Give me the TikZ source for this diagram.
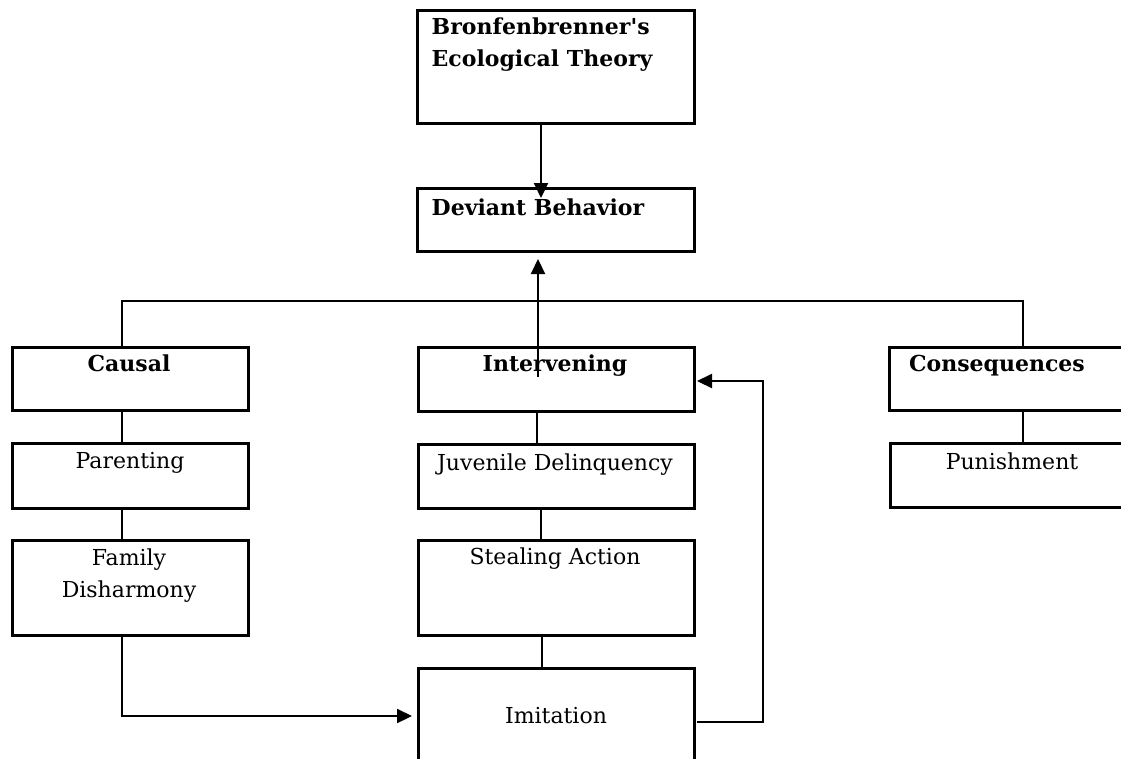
\documentclass[tikz,border=0pt]{standalone}
\usepackage{fontspec}
\setmainfont{DejaVu Serif}[Ligatures=TeXOff]
\usetikzlibrary{shapes,arrows.meta}
\tikzset{
  box/.style={draw, line width=3pt, inner sep=0pt},
  lbl/.style={inner sep=0pt, font=\fontsize{22}{32}\selectfont},
  conn/.style={line width=2.2pt},
  arr/.style={line width=2.2pt, -{Triangle[length=15pt,width=14pt]}}
}
\begin{document}
\begin{tikzpicture}[x=1pt,y=-1pt]
\useasboundingbox (0,0) rectangle (1121,758);
\node[box, minimum width=277, minimum height=113, label={[lbl, anchor=north west, align=left, xshift=16, yshift=-9]north west:\textbf{Bronfenbrenner's}\\\textbf{Ecological Theory}}] (theory) at (555.5,66.5) {};
\node[box, minimum width=277, minimum height=63, label={[lbl, anchor=north west, xshift=16, yshift=-12]north west:\textbf{Deviant Behavior}}] (deviant) at (555.5,219.5) {};
\node[box, minimum width=236, minimum height=63, label={[lbl, anchor=north, xshift=-1, yshift=-9]north:\textbf{Causal}}] (causal) at (130,378.5) {};
\node[box, minimum width=276, minimum height=64, label={[lbl, anchor=north, xshift=-1, yshift=-9]north:\textbf{Intervening}}] (interv) at (556,379) {};
\node[box, minimum width=270, minimum height=63, label={[lbl, anchor=north, xshift=-27, yshift=-9]north:\textbf{Consequences}}] (conseq) at (1024,378.5) {};
\node[box, minimum width=236, minimum height=65, label={[lbl, anchor=north, yshift=-11]north:Parenting}] (parenting) at (130,475.5) {};
\node[box, minimum width=276, minimum height=64, label={[lbl, anchor=north, xshift=-1, yshift=-11]north:Juvenile Delinquency}] (juvenile) at (556,476) {};
\node[box, minimum width=270, minimum height=64, label={[lbl, anchor=north, xshift=-13, yshift=-11]north:Punishment}] (punish) at (1025,475) {};
\node[box, minimum width=236, minimum height=95, label={[lbl, anchor=north, align=center, xshift=-1, yshift=-10]north:Family\\Disharmony}] (family) at (130,587.5) {};
\node[box, minimum width=276, minimum height=95, label={[lbl, anchor=north, xshift=-1, yshift=-9]north:Stealing Action}] (stealing) at (556,587.5) {};
\node[box, minimum width=276, minimum height=132, label={[lbl, anchor=north, yshift=-41]north:Imitation}] (imitation) at (556,734) {};
\coordinate (busleft) at (122,301);
\coordinate (busright) at (1023,301);
\coordinate (upstart) at (538,377);
\coordinate (uptip) at (538,259);
\coordinate (famcorner) at (122,716);
\coordinate (famtip) at (412,716);
\coordinate (fbstart) at (697,722);
\coordinate (fbtop) at (763,381);
\coordinate (fbtip) at (697,381);
\draw[conn] (causal.north -| busleft) -- (busleft) -- (busright) -- (conseq.north -| busright);
\draw[arr] (theory.south -| 541,0) -- (541,198);
\draw[arr] (upstart) -- (uptip);
\draw[conn] (causal.south -| busleft) -- (parenting.north -| busleft);
\draw[conn] (parenting.south -| busleft) -- (family.north -| busleft);
\draw[conn] (interv.south -| 537,0) -- (juvenile.north -| 537,0);
\draw[conn] (juvenile.south -| 541,0) -- (stealing.north -| 541,0);
\draw[conn] (stealing.south -| 542,0) -- (imitation.north -| 542,0);
\draw[conn] (conseq.south -| busright) -- (punish.north -| busright);
\draw[arr] (family.south -| famcorner) -- (famcorner) -- (famtip);
\draw[arr] (fbstart) -| (fbtop) -- (fbtip);
\end{tikzpicture}
\end{document}
